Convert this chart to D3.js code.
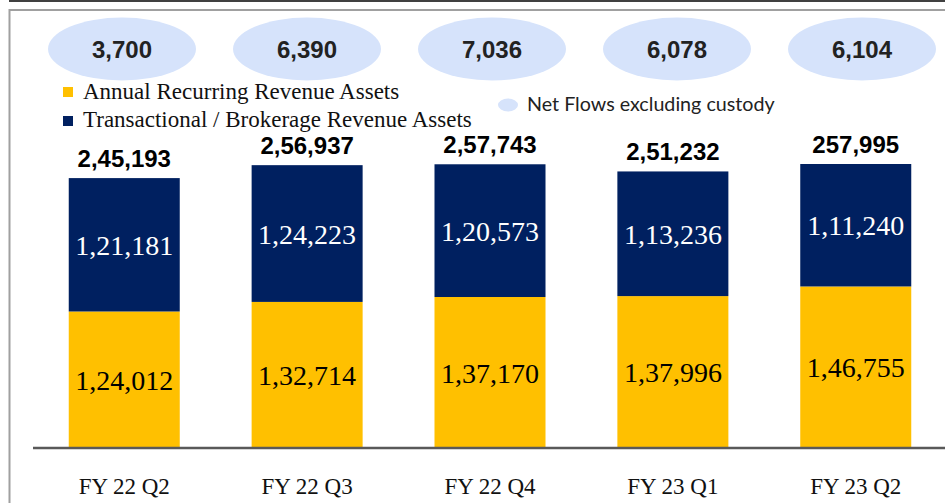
<!DOCTYPE html>
<html>
<head>
<meta charset="utf-8">
<script src="https://cdn.jsdelivr.net/npm/d3@7"></script>
<style>
  body { margin: 0; background: #fff; }
  svg { display: block; }
</style>
</head>
<body>
<div id="chart"></div>
<script>
// chart data
var quarters = ["FY 22 Q2", "FY 22 Q3", "FY 22 Q4", "FY 23 Q1", "FY 23 Q2"];
var annualRecurring = [124012, 132714, 137170, 137996, 146755];
var transactional = [121181, 124223, 120573, 113236, 111240];
var totalLabels = ["2,45,193", "2,56,937", "2,57,743", "2,51,232", "257,995"];
var netFlows = [3700, 6390, 7036, 6078, 6104];
var seriesNames = ["Annual Recurring Revenue Assets", "Transactional / Brokerage Revenue Assets"];
var netFlowName = "Net Flows excluding custody";

var W = 945, H = 503;
var navy = "#002060", gold = "#FFC000", bubble = "#D6E3FB";
var serif = "'Liberation Serif', 'DejaVu Serif', serif";
var sans = "'Liberation Sans', Arial, sans-serif";

// indian style grouping 1,24,012
function indian(n) {
  var s = String(n);
  var last3 = s.slice(-3), rest = s.slice(0, -3);
  if (rest.length === 0) return last3;
  return rest.replace(/\B(?=(\d{2})+(?!\d))/g, ",") + "," + last3;
}

var svg = d3.select("#chart").append("svg")
    .attr("width", W)
    .attr("height", H);

// frame
svg.append("rect")
    .attr("x", 9).attr("y", 0)
    .attr("width", W - 9).attr("height", 2)
    .style("fill", "#404040");
svg.append("rect")
    .attr("x", 9.5).attr("y", 10)
    .attr("width", W + 20).attr("height", H + 20)
    .style("fill", "none")
    .style("stroke", "#a0a0a0")
    .style("stroke-width", 2);

var x = d3.scaleBand()
    .domain(quarters)
    .range([34, 946])
    .paddingInner(0.393)
    .paddingOuter(0.19);

var y = d3.scaleLinear()
    .domain([0, 257995])
    .range([448, 164]);

var xb = d3.scalePoint()
    .domain(quarters)
    .range([122, 862]);

var stackData = quarters.map(function(q, i) {
  return { q: q, arr: annualRecurring[i], trans: transactional[i] };
});
var stacks = d3.stack().keys(["arr", "trans"])(stackData);
var colors = [gold, navy];
var textColors = ["#000", "#fff"];

// bars
stacks.forEach(function(layer, li) {
  var g = svg.append("g");
  g.selectAll("rect")
      .data(layer)
    .enter().append("rect")
      .attr("x", function(d) { return x(d.data.q); })
      .attr("width", x.bandwidth())
      .attr("y", function(d) { return y(d[1]); })
      .attr("height", function(d) { return y(d[0]) - y(d[1]); })
      .style("fill", colors[li]);
  g.selectAll("text")
      .data(layer)
    .enter().append("text")
      .attr("x", function(d) { return x(d.data.q) + x.bandwidth() / 2; })
      .attr("y", function(d) { return (y(d[0]) + y(d[1])) / 2; })
      .attr("dy", "0.36em")
      .attr("text-anchor", "middle")
      .style("font-family", serif)
      .style("font-size", "28px")
      .style("fill", textColors[li])
      .text(function(d) { return indian(d[1] - d[0]); });
});

// totals above bars
svg.selectAll(".total")
    .data(stacks[1])
  .enter().append("text")
    .attr("class", "total")
    .attr("x", function(d) { return x(d.data.q) + x.bandwidth() / 2; })
    .attr("y", function(d) { return y(d[1]) - 11; })
    .attr("text-anchor", "middle")
    .style("font-family", sans)
    .style("font-weight", "bold")
    .style("font-size", "24px")
    .style("fill", "#000")
    .text(function(d, i) { return totalLabels[i]; });

// x axis
var xAxis = svg.append("g")
    .attr("transform", "translate(0,448)")
    .call(d3.axisBottom(x).tickSize(0).tickPadding(30));
xAxis.select(".domain")
    .attr("d", "M33,0H945")
    .style("stroke", "#595959")
    .style("stroke-width", 2.5);
xAxis.selectAll("text")
    .style("font-family", serif)
    .style("font-size", "23px")
    .style("fill", "#111");

// net flow bubbles
var bub = svg.selectAll(".bubble")
    .data(netFlows)
  .enter().append("g")
    .attr("class", "bubble")
    .attr("transform", function(d, i) { return "translate(" + xb(quarters[i]) + ",49)"; });
bub.append("ellipse")
    .attr("rx", 74)
    .attr("ry", 31.5)
    .style("fill", bubble);
bub.append("text")
    .attr("dy", "0.36em")
    .attr("text-anchor", "middle")
    .style("font-family", sans)
    .style("font-weight", "bold")
    .style("font-size", "24px")
    .style("fill", "#222")
    .text(function(d) { return d3.format(",")(d); });

// legend
var leg = svg.append("g");
seriesNames.forEach(function(name, i) {
  leg.append("rect")
      .attr("x", 63).attr("y", 87 + i * 29)
      .attr("width", 10).attr("height", 10)
      .style("fill", colors[i]);
  leg.append("text")
      .attr("x", 83).attr("y", 99 + i * 28)
      .style("font-family", serif)
      .style("font-size", "23px")
      .style("fill", "#111")
      .text(name);
});
leg.append("ellipse")
    .attr("cx", 508).attr("cy", 105)
    .attr("rx", 10).attr("ry", 6.5)
    .style("fill", bubble);
leg.append("text")
    .attr("x", 527).attr("y", 111)
    .style("font-family", "Lato, 'Open Sans', sans-serif")
    .style("font-size", "19.7px")
    .style("fill", "#222")
    .text(netFlowName);
</script>
</body>
</html>
